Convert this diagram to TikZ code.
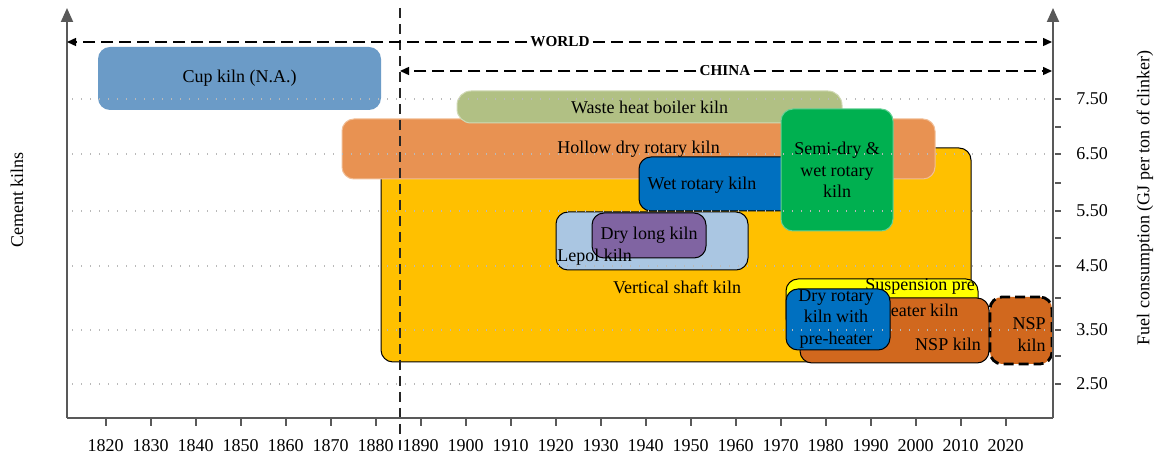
\documentclass[tikz,border=0pt]{standalone}
\usepackage{fontspec}
\setmainfont{Liberation Serif}
\usetikzlibrary{arrows.meta}

\definecolor{cupblue}{RGB}{107,155,199}
\definecolor{wasteolive}{RGB}{177,192,132}
\definecolor{hollowor}{RGB}{232,146,82}
\definecolor{shaftgold}{RGB}{255,192,0}
\definecolor{wetblue}{RGB}{0,112,192}
\definecolor{semigreen}{RGB}{0,176,80}
\definecolor{lepolblue}{RGB}{170,198,226}
\definecolor{longpurple}{RGB}{128,100,162}
\definecolor{suspyellow}{RGB}{255,255,0}
\definecolor{nspbrown}{RGB}{209,104,30}
\definecolor{axisgray}{RGB}{89,89,89}

\tikzset{
  kiln/.style={rounded corners=6pt, inner sep=0pt, align=center,
    font=\fontsize{9}{10.7}\selectfont},
  soft/.style={kiln, fill=#1, draw=#1!60!white, line width=0.5pt},
  hard/.style={kiln, fill=#1, draw=black, line width=0.5pt},
  txt/.style={font=\fontsize{9}{10.7}\selectfont, inner sep=0pt, align=center},
  tag/.style={font=\bfseries\fontsize{7.6}{9}\selectfont, inner sep=1.5pt},
  span/.style={dash pattern=on 6pt off 3pt, line width=0.7pt,
    -{Triangle[length=4.5pt,width=4pt]}},
  axis/.style={axisgray, line width=1pt},
  grid/.style={gray!55, line width=0.6pt, dash pattern=on 0.7pt off 3.8pt}
}

\begin{document}
\begin{tikzpicture}[x=0.5pt, y=-0.5pt]
\useasboundingbox (0,0) rectangle (1158,459);

% kilns abroad
\node[kiln, fill=cupblue, minimum width=141.5pt, minimum height=31.5pt] (cup) at (239.5,78.5) {Cup kiln (N.A.)};

% kilns in China
\node[hard=shaftgold, minimum width=295pt, minimum height=107pt] (shaft) at (676,255) {};
\node[soft=hollowor, minimum width=296.5pt, minimum height=30pt] (hollow) at (638.5,149) {Hollow dry rotary kiln};
\node[soft=wasteolive, rounded corners=7pt, minimum width=192.5pt, minimum height=16pt] (waste) at (649.5,107) {Waste heat boiler kiln};
\node[hard=wetblue, minimum width=80.5pt, minimum height=27pt] (wet) at (719.5,184) {};
\node[txt] (wet-t) at (702,185) {Wet rotary kiln};
\node[soft=semigreen, minimum width=56pt, minimum height=61pt] (semi) at (837,170) {Semi-dry \&\\wet rotary\\kiln};
\node[hard=lepolblue, minimum width=96pt, minimum height=29pt] (lepol) at (652,241) {};
\node[hard=longpurple, minimum width=57pt, minimum height=22.5pt] (drylong) at (649,235.5) {Dry long kiln};
\node[txt, anchor=west] (lepol-t) at (557,257) {Lepol kiln};
\node[txt] (shaft-t) at (677,287) {Vertical shaft kiln};

% pre-heater and NSP
\node[hard=suspyellow, minimum width=96pt, minimum height=25.5pt] (susp) at (882,304.5) {};
\node[hard=nspbrown, minimum width=94.5pt, minimum height=32.5pt] (nsp) at (894.5,330.5) {};
\node[txt, font=\fontsize{9}{13}\selectfont] (susp-t) at (920,298) {Suspension pre\\heater kiln};
\node[txt] (nsp-t) at (948,344) {NSP kiln};
\node[hard=wetblue, minimum width=52pt, minimum height=30.5pt] (dryrot) at (838,319.5) {};
\node[txt] (dryrot-t) at (836,319) {Dry rotary\\kiln with\\pre-heater};
\node[kiln, fill=nspbrown, draw=black, line width=1.4pt, dash pattern=on 5pt off 2.5pt,
  minimum width=31pt, minimum height=33.5pt] (nspnew) at (1021,330.5) {};
\node[txt, align=right, anchor=east] (nspnew-t) at (1046,334.5) {NSP\\kiln};

% grid
\foreach \y in {99,154,211,266,330,384}
  \draw[grid] (72,\y) -- (1050,\y);

% 1885 divide
\coordinate (divtop) at (400,8);
\coordinate (divbot) at (400,455);
\draw[black!85, line width=0.8pt, dash pattern=on 5pt off 3pt] (divtop) -- (divbot);

% axes
\coordinate (O) at (67,418);
\coordinate (ltop) at (67,8);
\coordinate (R) at (1053,418);
\coordinate (rtop) at (1053,8);
\draw[axis, -{Triangle[length=7pt,width=6pt]}] (O) -- (ltop);
\draw[axis] (O) -- (R);
\draw[axis, -{Triangle[length=7pt,width=6pt]}] (R) -- (rtop);

\foreach \yr in {1820,1830,...,2020}{
  \draw[axis] ({105.7+4.5*(\yr-1820)},418) -- ({105.7+4.5*(\yr-1820)},426);
  \node[txt] at ({105.7+4.5*(\yr-1820)},446) {\yr};
}
\foreach \y/\lab in {99/7.50,154/6.50,211/5.50,266/4.50,330/3.50,384/2.50}{
  \draw[axis] (1055,\y) -- (1061,\y);
  \node[txt] at (1092,\y) {\lab};
}
\foreach \y in {127,183,238,298,356}
  \draw[axis] (1055,\y) -- (1061,\y);

% world and china spans
\coordinate (worldL) at (67,42);
\coordinate (worldR) at (1052,42);
\node[tag] (world) at (560,42) {WORLD};
\draw[span] (world) -- (worldL);
\draw[span] (world) -- (worldR);

\coordinate (chinaL) at (400,71);
\coordinate (chinaR) at (1052,71);
\node[tag] (china) at (725,71) {CHINA};
\draw[span] (china) -- (chinaL);
\draw[span] (china) -- (chinaR);

% axis titles
\node[txt, rotate=90] (ltitle) at (17,200) {Cement kilns};
\node[txt, rotate=90] (rtitle) at (1145,198) {Fuel consumption (GJ per ton of clinker)};
\end{tikzpicture}
\end{document}
